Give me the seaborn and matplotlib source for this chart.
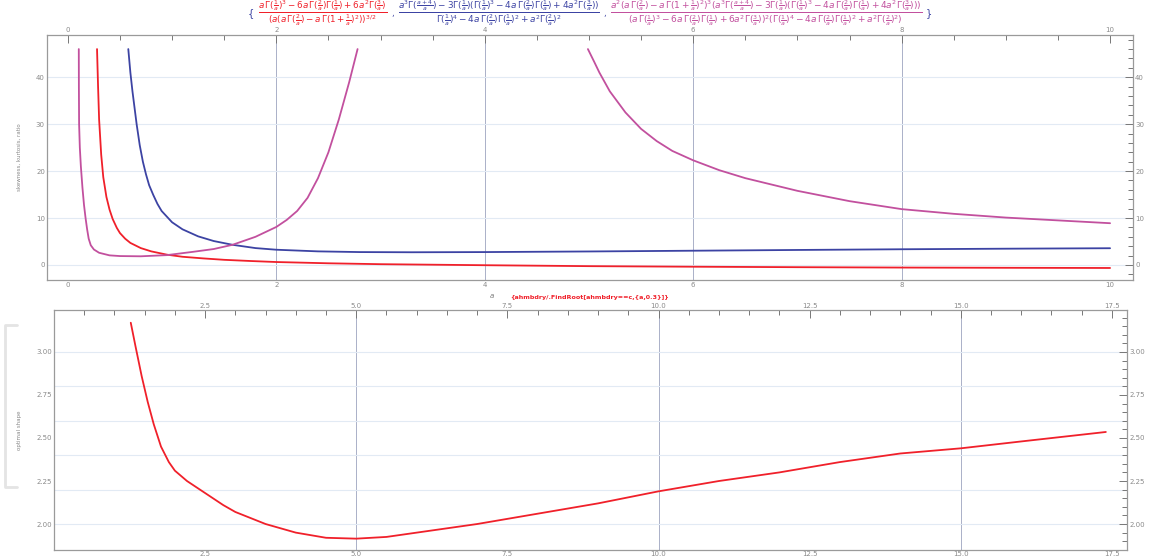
import numpy as np
import pandas as pd
import matplotlib
matplotlib.use("Agg")
import matplotlib.pyplot as plt
import seaborn as sns
from matplotlib.ticker import MultipleLocator, FormatStrFormatter
from matplotlib.lines import Line2D

# ---------------- data ----------------
red_a = [0.28, 0.29, 0.30, 0.32, 0.34, 0.37, 0.40, 0.43, 0.47, 0.50, 0.55, 0.60, 0.70, 0.80, 0.95,
         1.1, 1.3, 1.5, 1.75, 2.0, 2.5, 3.0, 4.0, 5.0, 6.0, 7.0, 8.0, 9.0, 10.0]
red_y = [46, 38, 31, 23.5, 18.7, 14.5, 11.8, 9.8, 7.9, 6.8, 5.6, 4.7, 3.6, 2.9, 2.2,
         1.75, 1.4, 1.1, 0.85, 0.63, 0.36, 0.17, -0.05, -0.25, -0.37, -0.47, -0.55, -0.60, -0.64]

blue_a = [0.58, 0.60, 0.62, 0.64, 0.66, 0.69, 0.72, 0.75, 0.78, 0.82, 0.86, 0.90, 1.0, 1.1, 1.25, 1.40,
          1.58, 1.8, 2.0, 2.4, 2.8, 3.3, 4.0, 5.0, 6.0, 7.0, 8.0, 9.0, 10.0]
blue_y = [46, 41, 37, 33.5, 30, 25.5, 22, 19.3, 17, 14.9, 13, 11.5, 9.1, 7.6, 6.1, 5.1,
          4.3, 3.6, 3.25, 2.9, 2.75, 2.71, 2.75, 2.88, 3.04, 3.2, 3.35, 3.47, 3.57]

mag1_a = [0.105, 0.106, 0.108, 0.115, 0.125, 0.14, 0.155, 0.17, 0.185, 0.20, 0.22, 0.25, 0.30, 0.40,
          0.50, 0.70, 0.95, 1.2, 1.4, 1.58, 1.8, 2.0, 2.1, 2.2, 2.3, 2.4, 2.5, 2.6, 2.7, 2.78]
mag1_y = [46, 38, 30, 25, 21, 16.5, 12.8, 10, 7.6, 5.6, 4.2, 3.3, 2.6, 2.05,
          1.9, 1.85, 2.1, 2.8, 3.4, 4.3, 6.0, 8.1, 9.6, 11.5, 14.3, 18.5, 24, 31, 39, 46]

mag2_a = [4.99, 5.05, 5.1, 5.2, 5.35, 5.5, 5.65, 5.8, 6.0, 6.25, 6.5, 7.0, 7.5, 8.0, 8.5, 9.0, 9.5, 10.0]
mag2_y = [46, 43.3, 41, 37, 32.5, 29.0, 26.4, 24.3, 22.3, 20.2, 18.5, 15.8, 13.6, 11.9, 10.9, 10.1, 9.5, 8.9]

c_vals = [1.27, 1.35, 1.45, 1.55, 1.65, 1.77, 1.9, 2.0, 2.2, 2.5, 2.8, 3.0, 3.5, 4.0, 4.5, 5.0, 5.5,
          6.0, 7.0, 7.5, 8.0, 9.0, 10.0, 11.0, 12.0, 12.5, 13.0, 14.0, 15.0, 16.0, 17.4]
opt_a = [3.17, 3.03, 2.86, 2.71, 2.58, 2.45, 2.36, 2.31, 2.25, 2.18, 2.11, 2.07, 2.00, 1.95, 1.92, 1.915, 1.925,
         1.95, 2.00, 2.03, 2.06, 2.12, 2.19, 2.25, 2.30, 2.33, 2.36, 2.41, 2.44, 2.48, 2.535]

top_xticks = [0, 2, 4, 6, 8, 10]
top_yticks = [0, 10, 20, 30, 40]
bot_xticks = [2.5, 5.0, 7.5, 10.0, 12.5, 15.0, 17.5]
bot_yticks = [2.00, 2.25, 2.50, 2.75, 3.00]

# ---------------- style ----------------
sns.set_style("white")
plt.rcParams['font.family'] = ['DejaVu Sans']
plt.rcParams['mathtext.fontset'] = 'dejavusans'

RED = "#f0202a"
BLUE = "#3c43a3"
MAG = "#c2509e"
FRAME = "#9a9a9a"
TICKC = "#777777"
VGRID = "#aab0c8"
HGRID = "#e2eaf4"

fig = plt.figure(figsize=(11.59, 5.58), dpi=100)
W, H = 1159, 558

def axes_px(l, t, r, b):
    return fig.add_axes([l / W, 1 - b / H, (r - l) / W, (b - t) / H])

ax1 = axes_px(47, 35, 1133, 280)
ax2 = axes_px(54, 310, 1127, 550)

def style(ax, xmaj, xmin, ymaj, ymin, xfmt, yfmt):
    for s in ax.spines.values():
        s.set_color(FRAME)
        s.set_linewidth(0.9)
    ax.xaxis.set_major_locator(xmaj)
    ax.xaxis.set_minor_locator(xmin)
    ax.yaxis.set_major_locator(ymaj)
    ax.yaxis.set_minor_locator(ymin)
    ax.xaxis.set_major_formatter(FormatStrFormatter(xfmt))
    ax.yaxis.set_major_formatter(FormatStrFormatter(yfmt))
    ax.tick_params(which='both', direction='in', top=True, right=True,
                   labeltop=True, labelright=True, colors=TICKC,
                   labelcolor="#8a8a8a", labelsize=5, width=0.7)
    ax.tick_params(which='major', length=6, pad=1.5)
    ax.tick_params(which='minor', length=3.5)
    ax.set_facecolor("white")

# ---------------- top panel ----------------
for a, y, col in [(red_a, red_y, RED), (blue_a, blue_y, BLUE),
                  (mag1_a, mag1_y, MAG), (mag2_a, mag2_y, MAG)]:
    sns.lineplot(x=a, y=y, ax=ax1, color=col, lw=1.3, sort=False, estimator=None)

ax1.set_xlim(-0.2, 10.22)
ax1.set_ylim(-3.2, 49)
for g in [2, 4, 6, 8]:
    ax1.axvline(g, color=VGRID, lw=0.7, zorder=0)
for g in top_yticks:
    ax1.axhline(g, color=HGRID, lw=0.8, zorder=0)
style(ax1, MultipleLocator(2), MultipleLocator(0.5), MultipleLocator(10), MultipleLocator(2), "%g", "%g")
ax1.set_xticks(top_xticks)
ax1.set_yticks(top_yticks)
ax1.set_xlabel("a", fontsize=5, color="#777777", style='italic')
ax1.xaxis.set_label_coords(0.41, -0.055)
ax1.set_ylabel("skewness, kurtosis, ratio", fontsize=4, color="#888888", labelpad=10)

# ---------------- bottom panel ----------------
sns.lineplot(x=c_vals, y=opt_a, ax=ax2, color=RED, lw=1.3, sort=False, estimator=None)
ax2.set_xlim(0.0, 17.75)
ax2.set_ylim(1.849, 3.244)
for g in [5, 10, 15]:
    ax2.axvline(g, color=VGRID, lw=0.7, zorder=0)
for g in [2.0, 2.2, 2.4, 2.6, 2.8, 3.0]:
    ax2.axhline(g, color=HGRID, lw=0.8, zorder=0)
style(ax2, MultipleLocator(2.5), MultipleLocator(0.5), MultipleLocator(0.25), MultipleLocator(0.05), "%.1f", "%.2f")
ax2.set_xticks(bot_xticks)
ax2.set_yticks(bot_yticks)
ax2.tick_params(axis='x', which='major', pad=0.5)
ax2.set_ylabel("optimal shape", fontsize=4, color="#888888", labelpad=10)
ax2.set_xlabel("")

fig.text(590 / W, 1 - 297 / H, "{ahmbdry/.FindRoot[ahmbdry==c,{a,0.3}]}",
         color=RED, fontsize=4.6, ha='center', va='center', weight='bold')

# ---------------- title (formula) ----------------
red_t = (r"$\frac{a\,\Gamma(\frac{1}{a})^3-6a\,\Gamma(\frac{2}{a})\Gamma(\frac{1}{a})+6a^2\Gamma(\frac{3}{a})}"
         r"{(a(a\,\Gamma(\frac{2}{a})-a\,\Gamma(1+\frac{1}{a})^2))^{3/2}}$")
blue_t = (r"$\frac{a^3\Gamma(\frac{a+4}{a})-3\Gamma(\frac{1}{a})(\Gamma(\frac{1}{a})^3-4a\,\Gamma(\frac{2}{a})\Gamma(\frac{1}{a})+4a^2\Gamma(\frac{3}{a}))}"
          r"{\Gamma(\frac{1}{a})^4-4a\,\Gamma(\frac{2}{a})\Gamma(\frac{1}{a})^2+a^2\Gamma(\frac{2}{a})^2}$")
mag_t = (r"$\frac{a^2(a\,\Gamma(\frac{2}{a})-a\,\Gamma(1+\frac{1}{a})^2)^3(a^3\Gamma(\frac{a+4}{a})-3\Gamma(\frac{1}{a})(\Gamma(\frac{1}{a})^3-4a\,\Gamma(\frac{2}{a})\Gamma(\frac{1}{a})+4a^2\Gamma(\frac{3}{a})))}"
         r"{(a\,\Gamma(\frac{1}{a})^3-6a\,\Gamma(\frac{2}{a})\Gamma(\frac{1}{a})+6a^2\Gamma(\frac{3}{a}))^2(\Gamma(\frac{1}{a})^4-4a\,\Gamma(\frac{2}{a})\Gamma(\frac{1}{a})^2+a^2\Gamma(\frac{2}{a})^2)}$")
ty = 1 - 13.5 / H
pieces = [("{", BLUE, 7), (red_t, RED, 9.0), (",", BLUE, 6), (blue_t, BLUE, 9.1),
          (",", BLUE, 6), (mag_t, MAG, 9.2), ("}", BLUE, 7)]
texts = [fig.text(0, ty, s, color=c, fontsize=f, ha='left', va='center') for s, c, f in pieces]
renderer = fig.canvas.get_renderer()
widths = [t.get_window_extent(renderer).width for t in texts]
gap = 4
total = sum(widths) + gap * (len(widths) - 1)
x = 590 - total / 2
for t, w in zip(texts, widths):
    t.set_x(x / W)
    x += w + gap

# decorative bracket at left of lower panel
bx = [17 / W, 5 / W, 5 / W, 17 / W]
by = [1 - 325 / H, 1 - 325 / H, 1 - 487 / H, 1 - 487 / H]
fig.add_artist(Line2D(bx, by, color="#e4e4e4", lw=2, transform=fig.transFigure))

fig.savefig("out.png", dpi=100)
